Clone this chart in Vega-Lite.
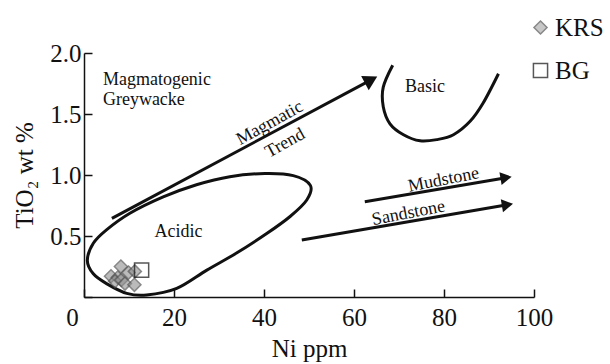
{
  "$schema": "https://vega.github.io/schema/vega-lite/v6.json",
  "width": 450,
  "height": 244,
  "autosize": {"type": "none"},
  "padding": {"left": 84, "top": 53, "right": 76, "bottom": 67},
  "background": "white",
  "config": {
    "view": {"stroke": null},
    "font": "Liberation Serif",
    "axis": {
      "grid": false,
      "domainColor": "#111",
      "domainWidth": 1.5,
      "tickColor": "#111",
      "tickWidth": 1.5,
      "tickSize": -8,
      "labelFlush": false,
      "labelFont": "Liberation Serif",
      "labelFontSize": 25,
      "labelColor": "#111",
      "titleFont": "Liberation Serif",
      "titleFontSize": 25,
      "titleFontWeight": "normal",
      "titleColor": "#111"
    },
    "legend": {
      "labelFont": "Liberation Serif",
      "labelFontSize": 25,
      "labelColor": "#111",
      "padding": 0,
      "labelOffset": 2,
      "rowPadding": 17,
      "symbolStrokeWidth": 1.5
    }
  },
  "datasets": {
    "samples": [
      {"group": "KRS", "ni": 8.2, "tio2": 0.25},
      {"group": "KRS", "ni": 6.0, "tio2": 0.17},
      {"group": "KRS", "ni": 7.5, "tio2": 0.16},
      {"group": "KRS", "ni": 6.9, "tio2": 0.13},
      {"group": "KRS", "ni": 8.3, "tio2": 0.14},
      {"group": "KRS", "ni": 9.1, "tio2": 0.11},
      {"group": "KRS", "ni": 9.9, "tio2": 0.2},
      {"group": "KRS", "ni": 11.3, "tio2": 0.21},
      {"group": "KRS", "ni": 11.2, "tio2": 0.1},
      {"group": "BG", "ni": 12.8, "tio2": 0.22}
    ],
    "fields": [
      {"field": "Acidic", "seq": 1, "ni": 0.74, "tio2": 0.30},
      {"field": "Acidic", "seq": 2, "ni": 2.07, "tio2": 0.44},
      {"field": "Acidic", "seq": 3, "ni": 5.0, "tio2": 0.55},
      {"field": "Acidic", "seq": 4, "ni": 10.2, "tio2": 0.686},
      {"field": "Acidic", "seq": 5, "ni": 17.6, "tio2": 0.82},
      {"field": "Acidic", "seq": 6, "ni": 25.0, "tio2": 0.92},
      {"field": "Acidic", "seq": 7, "ni": 32.4, "tio2": 0.986},
      {"field": "Acidic", "seq": 8, "ni": 40.2, "tio2": 1.012},
      {"field": "Acidic", "seq": 9, "ni": 46.5, "tio2": 0.995},
      {"field": "Acidic", "seq": 10, "ni": 50.3, "tio2": 0.915},
      {"field": "Acidic", "seq": 11, "ni": 49.5, "tio2": 0.795},
      {"field": "Acidic", "seq": 12, "ni": 45.8, "tio2": 0.66},
      {"field": "Acidic", "seq": 13, "ni": 40.6, "tio2": 0.52},
      {"field": "Acidic", "seq": 14, "ni": 33.9, "tio2": 0.36},
      {"field": "Acidic", "seq": 15, "ni": 27.3, "tio2": 0.22},
      {"field": "Acidic", "seq": 16, "ni": 20.6, "tio2": 0.07},
      {"field": "Acidic", "seq": 17, "ni": 13.9, "tio2": 0.016},
      {"field": "Acidic", "seq": 18, "ni": 9.5, "tio2": 0.03},
      {"field": "Acidic", "seq": 19, "ni": 5.0, "tio2": 0.11},
      {"field": "Acidic", "seq": 20, "ni": 2.07, "tio2": 0.19},
      {"field": "Basic", "seq": 1, "ni": 68.6, "tio2": 1.90},
      {"field": "Basic", "seq": 2, "ni": 66.5, "tio2": 1.72},
      {"field": "Basic", "seq": 3, "ni": 66.5, "tio2": 1.56},
      {"field": "Basic", "seq": 4, "ni": 68.0, "tio2": 1.42},
      {"field": "Basic", "seq": 5, "ni": 71.0, "tio2": 1.33},
      {"field": "Basic", "seq": 6, "ni": 74.7, "tio2": 1.28},
      {"field": "Basic", "seq": 7, "ni": 78.4, "tio2": 1.29},
      {"field": "Basic", "seq": 8, "ni": 82.1, "tio2": 1.33},
      {"field": "Basic", "seq": 9, "ni": 85.8, "tio2": 1.44},
      {"field": "Basic", "seq": 10, "ni": 88.7, "tio2": 1.59},
      {"field": "Basic", "seq": 11, "ni": 92.1, "tio2": 1.83}
    ],
    "trends": [
      {"trend": "Magmatic", "seq": 1, "ni": 6.2, "tio2": 0.645},
      {"trend": "Magmatic", "seq": 2, "ni": 63.8, "tio2": 1.78},
      {"trend": "Mudstone", "seq": 1, "ni": 62.4, "tio2": 0.78},
      {"trend": "Mudstone", "seq": 2, "ni": 93.8, "tio2": 0.978},
      {"trend": "Sandstone", "seq": 1, "ni": 48.4, "tio2": 0.467},
      {"trend": "Sandstone", "seq": 2, "ni": 94.1, "tio2": 0.756}
    ],
    "notes": [
      {"text": "Magmatogenic", "kind": "region", "ni": 4.2, "tio2": 1.78},
      {"text": "Greywacke", "kind": "region", "ni": 4.2, "tio2": 1.615},
      {"text": "Basic", "kind": "field", "ni": 75.8, "tio2": 1.72},
      {"text": "Acidic", "kind": "field", "ni": 21.0, "tio2": 0.53},
      {"text": "Magmatic", "kind": "steep", "ni": 41.3, "tio2": 1.424},
      {"text": "Trend", "kind": "steep", "ni": 44.7, "tio2": 1.26},
      {"text": "Mudstone", "kind": "flat", "ni": 79.9, "tio2": 0.96},
      {"text": "Sandstone", "kind": "flat", "ni": 72.1, "tio2": 0.686}
    ]
  },
  "layer": [
    {
      "data": {"name": "fields"},
      "transform": [{"filter": "datum.field == 'Acidic'"}],
      "mark": {"type": "line", "interpolate": "cardinal-closed", "color": "#111", "strokeWidth": 3},
      "encoding": {
        "x": {
          "field": "ni", "type": "quantitative",
          "scale": {"domain": [0, 100], "nice": false},
          "axis": {
            "values": [0, 20, 40, 60, 80, 100],
            "title": "Ni ppm",
            "labelPadding": 16,
            "labelOffset": {"condition": {"test": "datum.value == 0", "value": -12}, "value": 0},
            "titleY": 59,
            "titleBaseline": "alphabetic"
          }
        },
        "y": {
          "field": "tio2", "type": "quantitative",
          "scale": {"domain": [0, 2], "nice": false},
          "axis": {
            "values": [0, 0.5, 1, 1.5, 2],
            "labelExpr": "datum.value == 0 ? '' : format(datum.value, '.1f')",
            "labelPadding": 11,
            "title": "TiO₂ wt %",
            "titleX": -60,
            "titleY": 122,
            "titleAngle": -90,
            "titleAlign": "center",
            "titleBaseline": "middle"
          }
        },
        "order": {"field": "seq"}
      }
    },
    {
      "data": {"name": "fields"},
      "transform": [{"filter": "datum.field == 'Basic'"}],
      "mark": {"type": "line", "interpolate": "cardinal", "color": "#111", "strokeWidth": 3},
      "encoding": {
        "x": {"field": "ni", "type": "quantitative"},
        "y": {"field": "tio2", "type": "quantitative"},
        "order": {"field": "seq"}
      }
    },
    {
      "data": {"name": "trends"},
      "mark": {"type": "line", "color": "#111", "strokeWidth": 3},
      "encoding": {
        "x": {"field": "ni", "type": "quantitative"},
        "y": {"field": "tio2", "type": "quantitative"},
        "detail": {"field": "trend"},
        "order": {"field": "seq"}
      }
    },
    {
      "data": {"name": "trends"},
      "transform": [{"filter": "datum.seq == 2"}],
      "mark": {"type": "point", "shape": "triangle-right", "filled": true, "color": "#111", "opacity": 1},
      "encoding": {
        "x": {"field": "ni", "type": "quantitative"},
        "y": {"field": "tio2", "type": "quantitative"},
        "angle": {"condition": {"test": "datum.trend == 'Magmatic'", "value": 332}, "value": 350.3},
        "size": {"condition": {"test": "datum.trend == 'Magmatic'", "value": 260}, "value": 170}
      }
    },
    {
      "data": {"name": "notes"},
      "transform": [{"filter": "datum.kind == 'region'"}],
      "mark": {"type": "text", "align": "left", "baseline": "middle", "fontSize": 18, "color": "#111"},
      "encoding": {
        "x": {"field": "ni", "type": "quantitative"},
        "y": {"field": "tio2", "type": "quantitative"},
        "text": {"field": "text"}
      }
    },
    {
      "data": {"name": "notes"},
      "transform": [{"filter": "datum.kind == 'field'"}],
      "mark": {"type": "text", "align": "center", "baseline": "middle", "fontSize": 18, "color": "#111"},
      "encoding": {
        "x": {"field": "ni", "type": "quantitative"},
        "y": {"field": "tio2", "type": "quantitative"},
        "text": {"field": "text"}
      }
    },
    {
      "data": {"name": "notes"},
      "transform": [{"filter": "datum.kind == 'steep'"}],
      "mark": {"type": "text", "align": "center", "baseline": "middle", "fontSize": 18, "color": "#111", "angle": 331},
      "encoding": {
        "x": {"field": "ni", "type": "quantitative"},
        "y": {"field": "tio2", "type": "quantitative"},
        "text": {"field": "text"}
      }
    },
    {
      "data": {"name": "notes"},
      "transform": [{"filter": "datum.kind == 'flat'"}],
      "mark": {"type": "text", "align": "center", "baseline": "middle", "fontSize": 18, "color": "#111", "angle": 349},
      "encoding": {
        "x": {"field": "ni", "type": "quantitative"},
        "y": {"field": "tio2", "type": "quantitative"},
        "text": {"field": "text"}
      }
    },
    {
      "data": {"name": "samples"},
      "mark": {"type": "point", "filled": true, "strokeWidth": 1.5, "strokeOpacity": 1},
      "encoding": {
        "x": {"field": "ni", "type": "quantitative"},
        "y": {"field": "tio2", "type": "quantitative"},
        "shape": {
          "field": "group", "type": "nominal",
          "scale": {"domain": ["KRS", "BG"], "range": ["diamond", "square"]},
          "legend": {"title": null, "orient": "none", "legendX": 444, "legendY": -38, "padding": 0, "labelOffset": 2, "rowPadding": 17}
        },
        "fill": {
          "field": "group", "type": "nominal",
          "scale": {"domain": ["KRS", "BG"], "range": ["#8e8e8e", "#ffffff"]},
          "legend": {"title": null, "orient": "none", "legendX": 444, "legendY": -38, "padding": 0, "labelOffset": 2, "rowPadding": 17}
        },
        "stroke": {
          "field": "group", "type": "nominal",
          "scale": {"domain": ["KRS", "BG"], "range": ["#555555", "#111111"]},
          "legend": {"title": null, "orient": "none", "legendX": 444, "legendY": -38, "padding": 0, "labelOffset": 2, "rowPadding": 17}
        },
        "size": {
          "field": "group", "type": "nominal",
          "scale": {"domain": ["KRS", "BG"], "range": [170, 200]},
          "legend": {"title": null, "orient": "none", "legendX": 444, "legendY": -38, "padding": 0, "labelOffset": 2, "rowPadding": 17}
        },
        "fillOpacity": {
          "field": "group", "type": "nominal",
          "scale": {"domain": ["KRS", "BG"], "range": [0.85, 0]},
          "legend": {"title": null, "orient": "none", "legendX": 444, "legendY": -38, "padding": 0, "labelOffset": 2, "rowPadding": 17}
        }
      }
    }
  ]
}
